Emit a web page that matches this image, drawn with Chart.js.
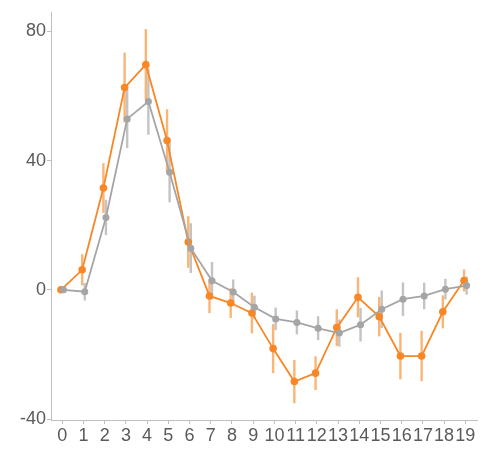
<!DOCTYPE html>
<html>
<head>
<meta charset="utf-8">
<script src="https://cdn.jsdelivr.net/npm/chart.js@4/dist/chart.umd.min.js"></script>
<style>
  html, body { margin: 0; padding: 0; background: #fff; }
  #wrap { width: 483px; height: 450px; }
</style>
</head>
<body>
<div id="wrap"><canvas id="c" width="483" height="450"></canvas></div>
<script>
// Time steps along the x axis
const steps = [0,1,2,3,4,5,6,7,8,9,10,11,12,13,14,15,16,17,18,19];
const yTicks = [-40, 0, 40, 80];

// Orange series: means and error half-widths
const orangeMean = [0, 6.2, 31.5, 62.6, 69.7, 46.2, 14.8, -1.9, -4.1, -7.2, -18.2, -28.4, -25.8, -11.7, -2.3, -8.3, -20.5, -20.5, -6.8, 2.9];
const orangeErr  = [0, 4.8, 7.7, 10.8, 11.0, 9.7, 8.0, 5.3, 4.6, 6.3, 7.6, 6.7, 5.2, 5.7, 6.2, 6.1, 7.2, 7.8, 5.1, 3.4];

// Gray series: means and error half-widths
const grayMean = [0, -0.6, 22.4, 52.9, 58.3, 36.4, 12.9, 2.8, -0.7, -5.4, -9.0, -10.1, -11.9, -13.4, -10.8, -6.0, -2.9, -1.9, 0.2, 1.3];
const grayErr  = [0, 2.7, 5.5, 9.0, 10.3, 9.3, 7.7, 5.8, 3.9, 3.6, 3.5, 3.7, 3.7, 4.2, 5.2, 5.8, 5.2, 4.1, 3.2, 2.8];

const ORANGE = 'rgb(248,135,38)';
const ORANGE_BAR = 'rgba(248,140,45,0.65)';
const GRAY = 'rgb(165,165,165)';
const GRAY_BAR = 'rgba(170,170,170,0.7)';
const DODGE = 0.06;

function toPoints(means, errs, shift) {
  return steps.map((s, i) => ({ x: s + shift, y: means[i], err: errs[i] }));
}

// Vertical error bars drawn beneath the lines and points
const errorBars = {
  id: 'errorBars',
  beforeDatasetsDraw(chart) {
    const { ctx, scales: { x, y } } = chart;
    ctx.save();
    chart.data.datasets.forEach(ds => {
      ctx.strokeStyle = ds.barColor;
      ctx.lineWidth = 2.4;
      ds.data.forEach(p => {
        if (!p.err) return;
        const px = x.getPixelForValue(p.x);
        ctx.beginPath();
        ctx.moveTo(px, y.getPixelForValue(p.y - p.err));
        ctx.lineTo(px, y.getPixelForValue(p.y + p.err));
        ctx.stroke();
      });
    });
    ctx.restore();
  }
};

const axisColor = 'rgb(190,190,190)';
const tickColor = 'rgb(90,90,90)';

new Chart(document.getElementById('c'), {
  type: 'line',
  data: {
    datasets: [
      {
        data: toPoints(grayMean, grayErr, DODGE),
        borderColor: GRAY,
        backgroundColor: GRAY,
        barColor: GRAY_BAR,
        borderWidth: 1.8,
        pointRadius: 3.5,
        pointBorderWidth: 0,
        tension: 0
      },
      {
        data: toPoints(orangeMean, orangeErr, -DODGE),
        borderColor: ORANGE,
        backgroundColor: ORANGE,
        barColor: ORANGE_BAR,
        borderWidth: 1.8,
        pointRadius: 3.8,
        pointBorderWidth: 0,
        tension: 0
      }
    ]
  },
  options: {
    responsive: false,
    animation: false,
    layout: { padding: { top: 12, right: 6, left: 0, bottom: 0 } },
    plugins: { legend: { display: false }, tooltip: { enabled: false } },
    scales: {
      x: {
        type: 'linear',
        min: -0.53,
        max: 19.55,
        afterBuildTicks(scale) { scale.ticks = steps.map(v => ({ value: v })); },
        afterFit(scale) { scale.height = 30; },
        grid: { display: true, drawOnChartArea: false, tickLength: 4, color: axisColor, tickColor: axisColor },
        border: { display: true, color: axisColor, width: 1 },
        ticks: {
          autoSkip: false, maxRotation: 0, minRotation: 0, padding: 1,
          color: tickColor,
          font: { family: 'Liberation Sans, Arial, sans-serif', size: 18 }
        }
      },
      y: {
        type: 'linear',
        min: -40.3,
        max: 86,
        afterBuildTicks(scale) { scale.ticks = yTicks.map(v => ({ value: v })); },
        afterFit(scale) { scale.width = 51; },
        grid: { display: true, drawOnChartArea: false, tickLength: 4, color: axisColor, tickColor: axisColor },
        border: { display: true, color: axisColor, width: 1 },
        ticks: {
          padding: 1,
          color: tickColor,
          font: { family: 'Liberation Sans, Arial, sans-serif', size: 18 }
        }
      }
    }
  },
  plugins: [errorBars]
});
</script>
</body>
</html>
